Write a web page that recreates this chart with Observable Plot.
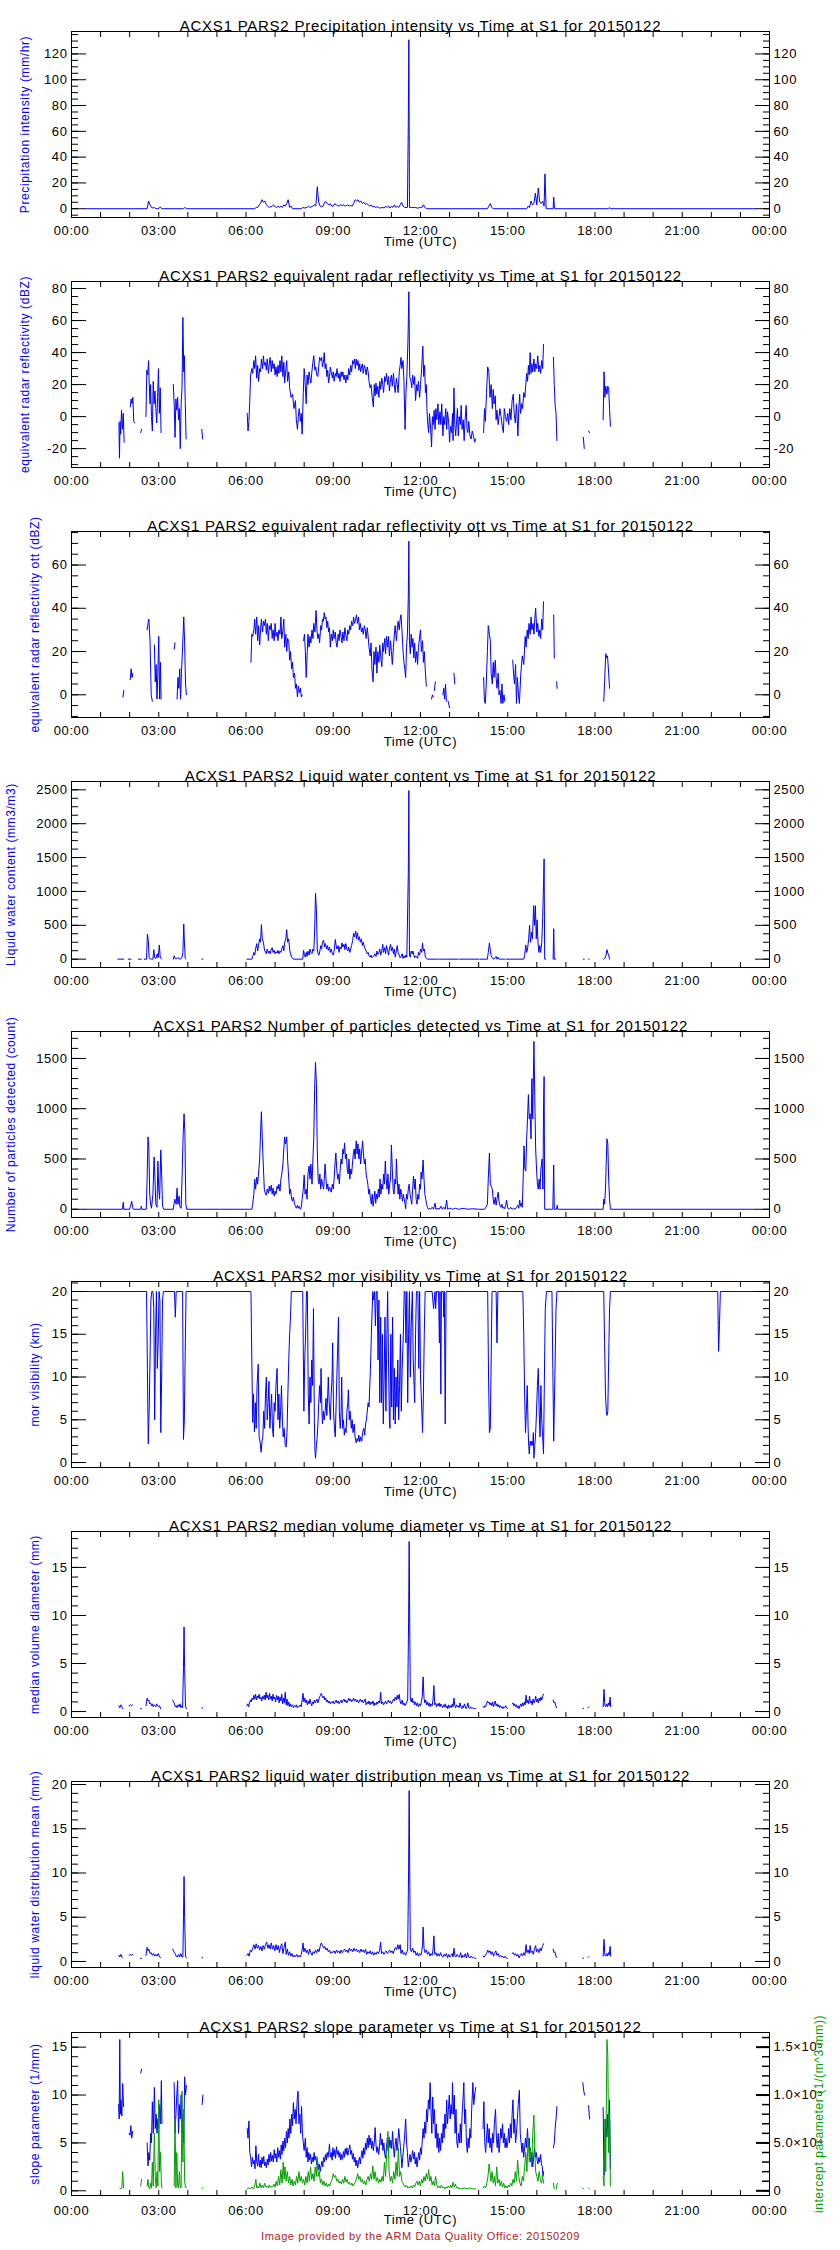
<!DOCTYPE html>
<html><head><meta charset="utf-8">
<script src="https://cdn.jsdelivr.net/npm/d3@7"></script>
<script src="https://cdn.jsdelivr.net/npm/@observablehq/plot@0.6"></script>
<style>
body{margin:0;background:#fff;}
#charts{width:840px;}
#charts svg{display:block;}
#charts svg text{letter-spacing:0.6px;}
#charts svg g[font-size="15"] text{letter-spacing:0.75px;}
</style></head><body><div id="charts"></div>
<script>
// ---- time axis ----
const xLabelHours = [0,3,6,9,12,15,18,21,24];
const xTickLabels = ["00:00","03:00","06:00","09:00","12:00","15:00","18:00","21:00","00:00"];

// ---- series: [hour (UTC), value]; null = gap ----
const precipIntensity = [[0.5,0],[2.6,0],[2.65,6],[2.7,3],[2.75,1],[2.8,0.5],[2.85,1],[2.9,0],[3.0,0],[3.05,1.5],[3.1,0],[3.85,0],[3.9,1],[3.95,0],[6.3,0],[6.35,1],[6.4,1],[6.45,3],[6.5,4],[6.55,7],[6.6,5],[6.65,6],[6.7,3],[6.75,2],[6.8,1],[6.85,1.5],[6.9,2],[6.95,3],[7.0,1.5],[7.05,1],[7.1,2],[7.15,1],[7.2,2],[7.25,1],[7.3,3],[7.35,2],[7.4,4],[7.45,7],[7.5,1],[7.55,2],[7.6,0],[7.9,0],[7.95,1],[8.0,0.5],[8.1,1],[8.15,2],[8.2,1],[8.3,2],[8.35,3],[8.4,2],[8.45,17],[8.5,5],[8.55,2],[8.6,1.5],[8.65,2],[8.7,5],[8.75,5.5],[8.8,4],[8.85,3],[8.9,4],[8.95,2],[9.0,2],[9.05,4],[9.1,3],[9.15,2.5],[9.2,2],[9.25,3],[9.3,2.5],[9.35,3],[9.4,2],[9.45,2.5],[9.5,3],[9.55,2],[9.6,2.5],[9.65,2],[9.7,4],[9.75,7],[9.8,6],[9.85,7],[9.9,5],[9.95,6],[10.0,4],[10.05,5],[10.1,3.5],[10.15,4],[10.2,3],[10.25,2],[10.3,3],[10.35,1.5],[10.4,2],[10.45,1],[10.5,1.5],[10.55,1],[10.6,0.5],[10.7,1],[10.75,0.5],[10.8,2],[10.85,1],[10.9,2],[10.95,0.5],[11.0,2],[11.05,1],[11.1,3],[11.15,1],[11.2,2],[11.25,1],[11.3,3],[11.35,5],[11.4,2],[11.45,1],[11.5,1],[11.55,1],[11.58,65],[11.6,131],[11.62,1],[11.7,1],[11.8,1],[11.9,0.5],[12.0,1],[12.05,1],[12.1,3],[12.15,1],[12.2,0],[14.3,0],[14.35,2],[14.4,4],[14.45,1],[14.5,0],[15.65,0],[15.7,2],[15.75,1],[15.8,6],[15.85,3],[15.9,4],[15.95,12],[16.0,3],[16.05,16],[16.1,5],[16.15,4],[16.2,6],[16.25,2],[16.28,27],[16.32,0],[16.56,0],[16.58,9],[16.61,0],[18.45,0],[18.5,0.8],[18.55,0],[23.5,0]];

const reflectivity = [[1.63,-4],[1.65,-26],[1.67,-3],[1.69,-11],[1.72,4],[1.75,-8],[1.78,2],[1.81,-16],[1.83,null],[2.02,6],[2.05,11],[2.08,8],[2.11,12],[2.14,-3],[2.17,-4],[2.19,null],[2.38,-10],[2.41,-8],[2.43,null],[2.56,0],[2.59,29],[2.62,26],[2.65,35],[2.67,22],[2.7,8],[2.72,20],[2.75,0],[2.78,-9],[2.81,22],[2.84,8],[2.87,16],[2.9,5],[2.93,-4],[2.96,12],[2.99,30],[3.02,2],[3.05,18],[3.08,-10],[3.1,null],[3.5,20],[3.53,8],[3.56,-13],[3.59,11],[3.62,4],[3.65,12],[3.68,-2],[3.71,5],[3.74,-20],[3.77,8],[3.8,18],[3.83,62],[3.86,28],[3.88,38],[3.91,10],[3.94,-14],[3.96,null],[4.48,-8],[4.51,-14],[4.53,null],[6.04,2],[6.07,-9],[6.1,-3],[6.13,10],[6.16,26],[6.2,30],[6.23,27],[6.27,35],[6.3,30],[6.33,38],[6.37,24],[6.4,32],[6.43,22],[6.47,30],[6.5,28],[6.53,36],[6.57,30],[6.6,38],[6.63,32],[6.67,34],[6.7,29],[6.73,36],[6.77,27],[6.8,33],[6.83,37],[6.87,28],[6.9,35],[6.93,30],[6.97,33],[7.0,26],[7.03,31],[7.07,25],[7.1,32],[7.13,27],[7.17,35],[7.2,28],[7.23,38],[7.27,25],[7.3,34],[7.33,21],[7.37,30],[7.4,35],[7.43,22],[7.47,28],[7.5,18],[7.55,12],[7.6,14],[7.65,5],[7.7,10],[7.73,-2],[7.77,-8],[7.8,0],[7.83,5],[7.87,-3],[7.9,2],[7.93,-11],[7.97,15],[8.0,30],[8.03,22],[8.07,8],[8.1,26],[8.13,20],[8.17,28],[8.2,24],[8.23,21],[8.27,29],[8.3,34],[8.33,38],[8.37,29],[8.4,31],[8.43,26],[8.47,25],[8.5,31],[8.53,37],[8.57,35],[8.6,37],[8.63,31],[8.66,34],[8.69,40],[8.72,30],[8.75,33],[8.78,25],[8.81,29],[8.84,21],[8.87,25],[8.9,31],[8.93,28],[8.97,24],[9.0,28],[9.03,22],[9.07,27],[9.1,25],[9.13,30],[9.17,24],[9.2,27],[9.23,22],[9.27,28],[9.3,25],[9.33,28],[9.37,23],[9.4,26],[9.43,21],[9.47,26],[9.5,23],[9.53,30],[9.57,26],[9.6,32],[9.63,28],[9.67,35],[9.7,33],[9.73,36],[9.76,30],[9.79,36],[9.82,32],[9.85,35],[9.88,29],[9.91,33],[9.94,28],[9.97,31],[10.0,33],[10.03,27],[10.07,32],[10.1,30],[10.13,26],[10.17,31],[10.2,28],[10.23,22],[10.27,18],[10.3,20],[10.34,12],[10.38,6],[10.41,20],[10.44,13],[10.47,21],[10.5,14],[10.53,19],[10.57,12],[10.6,22],[10.63,17],[10.67,24],[10.7,20],[10.73,15],[10.77,25],[10.8,22],[10.83,27],[10.87,20],[10.9,25],[10.93,16],[10.97,23],[11.0,26],[11.03,19],[11.07,27],[11.1,20],[11.13,15],[11.17,24],[11.2,20],[11.23,15],[11.27,28],[11.3,32],[11.33,37],[11.36,30],[11.4,35],[11.43,22],[11.47,-8],[11.5,15],[11.53,25],[11.57,48],[11.6,78],[11.63,25],[11.67,22],[11.7,18],[11.73,26],[11.77,20],[11.8,25],[11.83,10],[11.87,20],[11.9,16],[11.93,22],[11.97,12],[12.0,20],[12.04,30],[12.08,44],[12.11,25],[12.14,32],[12.17,15],[12.2,20],[12.22,5],[12.25,-5],[12.28,-10],[12.31,2],[12.35,-8],[12.38,-19],[12.41,0],[12.44,-5],[12.47,4],[12.5,-8],[12.53,5],[12.56,-2],[12.6,8],[12.63,-5],[12.67,3],[12.7,-5],[12.73,8],[12.77,-12],[12.8,0],[12.83,-5],[12.87,5],[12.9,-8],[12.93,3],[12.97,-4],[13.0,-16],[13.03,-6],[13.07,-10],[13.1,2],[13.12,-15],[13.15,18],[13.18,-5],[13.21,-12],[13.24,-3],[13.27,5],[13.3,-12],[13.33,0],[13.37,-5],[13.4,7],[13.43,-8],[13.47,-2],[13.5,-15],[13.53,-3],[13.57,7],[13.6,-8],[13.63,-10],[13.66,-3],[13.7,-12],[13.74,-14],[13.78,-9],[13.82,-12],[13.86,-16],[13.9,-14],[13.92,null],[14.17,-10],[14.2,5],[14.23,-3],[14.27,15],[14.31,31],[14.35,28],[14.39,12],[14.43,20],[14.47,5],[14.5,17],[14.53,8],[14.57,13],[14.6,-2],[14.63,4],[14.67,-5],[14.7,0],[14.73,5],[14.77,0],[14.81,-6],[14.85,-10],[14.88,5],[14.92,0],[14.96,-3],[15.0,2],[15.03,-5],[15.07,5],[15.11,-2],[15.15,10],[15.19,14],[15.22,2],[15.26,-4],[15.3,8],[15.35,-12],[15.38,5],[15.41,14],[15.44,2],[15.48,8],[15.51,5],[15.55,15],[15.59,12],[15.62,20],[15.65,27],[15.68,22],[15.71,32],[15.74,26],[15.77,40],[15.8,27],[15.83,33],[15.86,28],[15.9,36],[15.93,28],[15.96,33],[16.0,30],[16.03,38],[16.07,28],[16.1,32],[16.13,27],[16.17,35],[16.2,30],[16.23,45],[16.25,null],[16.57,37],[16.6,20],[16.63,7],[16.66,2],[16.69,-15],[16.71,null],[17.6,-13],[17.63,-20],[17.65,null],[17.78,-9],[17.81,-10],[17.83,null],[18.28,-2],[18.31,28],[18.34,12],[18.37,19],[18.41,14],[18.44,19],[18.47,18],[18.5,5],[18.53,-6],[18.55,null]];

const reflectivityOtt = [[1.77,-1],[1.8,2],[1.82,null],[2.02,7],[2.05,12],[2.08,8],[2.11,10],[2.13,null],[2.6,30],[2.63,33],[2.66,35],[2.7,25],[2.74,0],[2.78,-3],[2.8,null],[2.85,23],[2.88,6],[2.91,14],[2.94,-2],[2.97,10],[3.0,27],[3.03,-2],[3.06,15],[3.08,-2],[3.1,null],[3.53,21],[3.56,24],[3.58,null],[3.63,-2],[3.66,8],[3.69,3],[3.72,12],[3.75,-2],[3.78,10],[3.82,22],[3.86,36],[3.89,24],[3.92,5],[3.95,0],[3.97,null],[6.17,15],[6.2,28],[6.23,27],[6.27,30],[6.3,35],[6.33,28],[6.37,36],[6.4,25],[6.43,32],[6.47,23],[6.5,30],[6.53,35],[6.57,29],[6.6,34],[6.63,32],[6.67,35],[6.7,28],[6.73,33],[6.77,25],[6.8,32],[6.83,30],[6.87,33],[6.9,26],[6.93,30],[6.97,25],[7.0,33],[7.03,27],[7.07,29],[7.1,25],[7.13,30],[7.17,28],[7.2,36],[7.23,26],[7.27,30],[7.3,35],[7.33,22],[7.37,28],[7.4,20],[7.43,26],[7.47,25],[7.5,16],[7.53,20],[7.57,12],[7.6,15],[7.63,8],[7.67,10],[7.7,3],[7.73,5],[7.77,-1],[7.8,4],[7.83,1],[7.87,3],[7.9,-1],[7.93,0],[7.95,null],[7.98,25],[8.01,28],[8.04,20],[8.07,8],[8.1,18],[8.13,28],[8.17,22],[8.2,27],[8.23,24],[8.27,30],[8.3,26],[8.33,33],[8.37,29],[8.41,39],[8.44,30],[8.47,26],[8.5,28],[8.53,24],[8.57,32],[8.6,30],[8.63,35],[8.66,34],[8.69,38],[8.72,35],[8.75,36],[8.78,31],[8.81,34],[8.84,29],[8.87,31],[8.9,22],[8.93,28],[8.97,25],[9.0,30],[9.03,26],[9.07,29],[9.1,24],[9.13,22],[9.17,28],[9.2,25],[9.23,30],[9.27,27],[9.3,24],[9.33,29],[9.37,25],[9.4,31],[9.43,28],[9.47,25],[9.5,30],[9.53,28],[9.57,32],[9.6,30],[9.63,34],[9.67,32],[9.7,36],[9.73,33],[9.77,35],[9.8,37],[9.83,33],[9.87,36],[9.9,30],[9.93,33],[9.97,29],[10.0,31],[10.03,28],[10.07,32],[10.1,30],[10.13,26],[10.17,31],[10.2,27],[10.23,22],[10.27,18],[10.3,24],[10.33,12],[10.37,6],[10.4,20],[10.43,14],[10.47,22],[10.5,10],[10.53,20],[10.57,15],[10.6,23],[10.63,18],[10.67,13],[10.7,24],[10.73,20],[10.77,26],[10.8,19],[10.83,27],[10.87,22],[10.9,27],[10.93,18],[10.97,25],[11.0,20],[11.03,14],[11.07,22],[11.1,28],[11.13,32],[11.17,25],[11.2,30],[11.23,34],[11.27,30],[11.3,35],[11.33,37],[11.37,28],[11.4,20],[11.43,15],[11.46,12],[11.49,8],[11.52,22],[11.55,28],[11.58,45],[11.6,71],[11.62,25],[11.65,19],[11.68,28],[11.71,22],[11.74,26],[11.77,17],[11.8,24],[11.83,15],[11.87,20],[11.9,14],[11.93,22],[11.97,27],[12.0,30],[12.03,20],[12.07,25],[12.1,15],[12.13,20],[12.17,10],[12.2,4],[12.22,null],[12.38,-2],[12.41,0],[12.44,-1],[12.46,null],[12.48,2],[12.51,6],[12.53,null],[12.77,0],[12.8,3],[12.83,-2],[12.86,5],[12.89,-3],[12.91,null],[12.95,-3],[13.0,-6],[13.02,null],[13.15,10],[13.18,5],[13.2,null],[14.17,8],[14.2,-3],[14.23,-4],[14.26,5],[14.3,20],[14.33,32],[14.37,28],[14.4,25],[14.43,10],[14.47,5],[14.5,15],[14.53,8],[14.57,16],[14.6,8],[14.63,3],[14.67,10],[14.7,0],[14.73,2],[14.77,-4],[14.8,5],[14.83,-4],[14.87,0],[14.9,-3],[14.92,null],[15.17,16],[15.2,10],[15.23,5],[15.27,14],[15.3,-4],[15.33,8],[15.37,0],[15.4,-4],[15.45,10],[15.5,18],[15.55,14],[15.6,27],[15.63,22],[15.67,30],[15.7,26],[15.73,33],[15.77,28],[15.8,36],[15.83,30],[15.87,33],[15.9,28],[15.93,35],[15.96,40],[16.0,29],[16.03,33],[16.07,27],[16.1,30],[16.13,26],[16.17,35],[16.2,30],[16.23,43],[16.25,null],[16.58,37],[16.6,17],[16.62,null],[16.68,6],[16.7,3],[16.72,null],[18.3,-3],[18.33,6],[18.37,19],[18.4,17],[18.43,18],[18.47,10],[18.5,3],[18.52,null]];

const liquidWaterContent = [[1.6,0],[1.8,0],[1.82,null],[1.95,0],[2.05,0],[2.07,null],[2.3,0],[2.4,0],[2.42,null],[2.5,0],[2.58,0],[2.61,370],[2.64,280],[2.67,20],[2.7,5],[2.75,0],[2.8,0],[2.83,140],[2.86,20],[2.9,10],[2.95,80],[2.98,20],[3.02,210],[3.05,30],[3.08,10],[3.1,0],[3.12,null],[3.5,0],[3.53,50],[3.56,10],[3.6,5],[3.65,20],[3.7,10],[3.75,0],[3.8,30],[3.83,100],[3.86,520],[3.88,280],[3.91,10],[3.93,0],[3.95,null],[4.48,0],[4.52,0],[4.54,null],[6.03,0],[6.2,0],[6.23,40],[6.27,100],[6.3,60],[6.33,150],[6.37,230],[6.4,120],[6.43,200],[6.47,300],[6.5,250],[6.53,510],[6.56,300],[6.6,250],[6.63,150],[6.67,100],[6.7,80],[6.73,150],[6.77,90],[6.8,120],[6.83,80],[6.87,150],[6.9,170],[6.93,100],[6.97,130],[7.0,80],[7.03,110],[7.07,90],[7.1,130],[7.13,80],[7.17,120],[7.2,100],[7.23,150],[7.27,200],[7.3,120],[7.33,250],[7.37,300],[7.4,435],[7.43,250],[7.47,300],[7.5,150],[7.53,80],[7.57,30],[7.6,10],[7.65,0],[7.95,0],[7.98,130],[8.01,60],[8.04,30],[8.07,100],[8.1,40],[8.13,120],[8.17,60],[8.2,150],[8.23,100],[8.27,80],[8.3,150],[8.33,120],[8.36,400],[8.39,970],[8.42,730],[8.45,150],[8.48,80],[8.51,60],[8.54,120],[8.57,200],[8.6,150],[8.63,250],[8.67,280],[8.7,180],[8.73,230],[8.77,150],[8.8,200],[8.83,130],[8.87,180],[8.9,100],[8.93,150],[8.97,80],[9.0,60],[9.03,120],[9.07,290],[9.1,200],[9.13,150],[9.17,200],[9.2,100],[9.23,180],[9.27,150],[9.3,240],[9.33,180],[9.37,220],[9.4,140],[9.43,230],[9.47,150],[9.5,120],[9.53,180],[9.57,100],[9.6,150],[9.63,200],[9.67,280],[9.7,380],[9.73,330],[9.77,415],[9.8,300],[9.83,390],[9.87,280],[9.9,330],[9.93,250],[9.97,300],[10.0,200],[10.03,250],[10.07,180],[10.1,150],[10.13,120],[10.17,80],[10.2,100],[10.23,50],[10.27,30],[10.3,60],[10.33,20],[10.37,40],[10.4,50],[10.43,80],[10.47,40],[10.5,120],[10.53,70],[10.57,100],[10.6,150],[10.63,60],[10.67,120],[10.7,220],[10.73,100],[10.77,170],[10.8,80],[10.83,200],[10.87,130],[10.9,60],[10.93,150],[10.97,220],[11.0,120],[11.03,180],[11.07,80],[11.1,150],[11.13,30],[11.17,120],[11.2,200],[11.23,100],[11.27,60],[11.3,20],[11.33,40],[11.37,80],[11.4,10],[11.43,50],[11.47,20],[11.5,60],[11.53,30],[11.58,1250],[11.6,2490],[11.62,60],[11.65,30],[11.68,120],[11.71,80],[11.74,120],[11.77,60],[11.8,20],[11.83,50],[11.87,30],[11.9,10],[11.93,100],[11.97,60],[12.0,150],[12.04,100],[12.07,240],[12.1,120],[12.13,150],[12.17,30],[12.2,10],[12.25,0],[12.6,0],[12.62,null],[12.64,0],[13.3,0],[13.32,null],[13.34,0],[14.0,0],[14.02,null],[14.04,0],[14.3,0],[14.33,100],[14.37,240],[14.4,130],[14.43,50],[14.47,20],[14.5,0],[14.55,10],[14.6,40],[14.63,0],[14.67,30],[14.7,0],[14.9,0],[14.92,null],[14.95,0],[15.55,0],[15.58,50],[15.62,210],[15.65,100],[15.68,150],[15.72,300],[15.75,500],[15.78,250],[15.82,400],[15.85,300],[15.89,790],[15.92,500],[15.95,790],[15.98,300],[16.01,580],[16.04,250],[16.07,100],[16.1,200],[16.13,100],[16.17,250],[16.2,600],[16.23,1100],[16.25,1480],[16.27,0],[16.3,0],[16.32,null],[16.56,0],[16.58,450],[16.6,0],[16.65,0],[16.67,null],[17.6,0],[17.63,0],[17.65,null],[17.78,0],[17.8,0],[17.82,null],[18.3,0],[18.35,20],[18.38,60],[18.41,140],[18.44,90],[18.47,60],[18.5,0],[18.52,null]];

const particleCount = [[0.5,0],[1.75,0],[1.78,70],[1.8,0],[2.0,0],[2.03,30],[2.07,80],[2.1,20],[2.13,0],[2.38,0],[2.4,30],[2.42,0],[2.57,0],[2.6,300],[2.63,720],[2.66,600],[2.69,150],[2.72,50],[2.75,10],[2.8,150],[2.84,520],[2.87,300],[2.9,50],[2.94,20],[2.97,480],[3.0,200],[3.03,100],[3.07,590],[3.1,350],[3.13,30],[3.17,0],[3.5,0],[3.55,100],[3.6,50],[3.63,210],[3.66,50],[3.7,130],[3.73,20],[3.77,10],[3.8,300],[3.84,750],[3.87,950],[3.9,750],[3.93,50],[3.96,0],[6.2,0],[6.23,50],[6.27,150],[6.3,300],[6.33,200],[6.37,320],[6.4,250],[6.43,350],[6.47,500],[6.5,760],[6.53,970],[6.56,700],[6.6,400],[6.63,200],[6.67,150],[6.7,140],[6.73,200],[6.77,160],[6.8,230],[6.83,180],[6.87,240],[6.9,150],[6.93,210],[6.97,130],[7.0,180],[7.03,150],[7.07,230],[7.1,200],[7.13,250],[7.17,180],[7.2,300],[7.23,350],[7.27,450],[7.3,600],[7.33,720],[7.36,650],[7.4,720],[7.43,500],[7.47,300],[7.5,150],[7.53,200],[7.57,100],[7.6,80],[7.63,120],[7.67,50],[7.7,30],[7.73,10],[7.77,40],[7.8,10],[7.83,30],[7.87,0],[7.9,20],[7.93,100],[7.97,200],[8.0,340],[8.03,150],[8.07,200],[8.1,100],[8.13,350],[8.17,430],[8.2,300],[8.23,450],[8.27,250],[8.3,500],[8.33,700],[8.36,1200],[8.39,1460],[8.42,1250],[8.45,600],[8.48,300],[8.51,250],[8.54,350],[8.57,200],[8.6,300],[8.63,250],[8.67,200],[8.7,350],[8.72,450],[8.75,300],[8.78,200],[8.81,250],[8.84,180],[8.87,220],[8.9,200],[8.93,170],[8.97,250],[9.0,200],[9.03,300],[9.06,450],[9.09,560],[9.12,400],[9.15,300],[9.18,350],[9.21,250],[9.24,400],[9.27,500],[9.3,450],[9.33,600],[9.36,550],[9.39,660],[9.42,500],[9.45,550],[9.48,400],[9.51,350],[9.54,500],[9.57,300],[9.6,400],[9.63,350],[9.66,450],[9.69,550],[9.72,600],[9.75,500],[9.79,680],[9.82,550],[9.85,650],[9.88,500],[9.91,600],[9.94,450],[9.97,550],[10.01,680],[10.04,550],[10.07,450],[10.1,500],[10.13,350],[10.16,300],[10.19,250],[10.22,150],[10.25,200],[10.28,100],[10.31,50],[10.34,150],[10.37,30],[10.4,100],[10.43,180],[10.46,60],[10.49,150],[10.52,100],[10.55,200],[10.58,120],[10.61,300],[10.64,150],[10.67,250],[10.7,200],[10.73,350],[10.76,250],[10.79,480],[10.82,300],[10.85,200],[10.88,350],[10.91,150],[10.94,250],[10.97,300],[11.0,640],[11.03,400],[11.06,200],[11.09,150],[11.12,300],[11.15,250],[11.17,500],[11.2,300],[11.23,150],[11.26,250],[11.29,100],[11.32,200],[11.35,150],[11.38,80],[11.41,150],[11.44,100],[11.47,50],[11.49,5],[11.52,150],[11.55,100],[11.58,200],[11.61,250],[11.64,150],[11.67,100],[11.7,50],[11.73,200],[11.76,330],[11.79,200],[11.82,300],[11.85,100],[11.88,50],[11.91,150],[11.94,100],[11.97,250],[12.0,200],[12.02,370],[12.05,300],[12.09,490],[12.12,300],[12.15,150],[12.18,100],[12.21,50],[12.24,20],[12.27,0],[12.3,10],[12.35,0],[12.4,20],[12.45,0],[12.5,60],[12.53,0],[12.6,10],[12.65,0],[12.7,30],[12.75,0],[12.8,20],[12.85,0],[12.9,90],[12.93,0],[13.0,10],[13.1,0],[13.2,10],[13.3,0],[13.5,10],[13.6,0],[13.8,5],[14.0,0],[14.2,0],[14.25,20],[14.3,50],[14.33,300],[14.37,560],[14.4,250],[14.43,230],[14.47,200],[14.5,100],[14.53,50],[14.57,120],[14.6,40],[14.63,100],[14.67,170],[14.7,80],[14.73,40],[14.77,20],[14.8,50],[14.83,10],[14.87,20],[14.9,5],[14.93,40],[14.96,90],[15.0,10],[15.05,0],[15.1,20],[15.15,0],[15.2,10],[15.25,0],[15.3,20],[15.35,40],[15.38,10],[15.41,90],[15.44,30],[15.47,60],[15.5,20],[15.53,300],[15.56,630],[15.59,400],[15.62,380],[15.65,700],[15.68,900],[15.71,1140],[15.74,900],[15.77,950],[15.8,700],[15.83,1300],[15.86,900],[15.9,1670],[15.93,1100],[15.96,600],[15.99,400],[16.02,250],[16.05,200],[16.08,300],[16.11,200],[16.14,400],[16.18,500],[16.21,200],[16.23,1000],[16.25,1320],[16.27,0],[16.55,0],[16.58,440],[16.6,0],[16.68,0],[16.7,40],[16.72,0],[18.28,0],[18.3,100],[18.33,50],[18.36,200],[18.39,500],[18.41,700],[18.44,650],[18.47,300],[18.5,100],[18.53,0],[23.5,0]];

const morVisibility = [[0.5,20],[2.58,20],[2.61,11],[2.64,2.2],[2.67,6],[2.7,12],[2.73,19],[2.76,20],[2.8,20],[2.83,18],[2.86,5],[2.89,15],[2.92,20],[2.95,11],[2.98,14],[3.01,20],[3.04,19],[3.07,3.5],[3.1,10],[3.13,19],[3.16,20],[3.54,20],[3.57,17],[3.6,20],[3.82,20],[3.85,2.7],[3.88,5],[3.91,13],[3.94,20],[6.17,20],[6.2,12],[6.23,4.7],[6.26,8],[6.29,3.6],[6.32,7],[6.35,4],[6.38,9],[6.42,11.5],[6.45,3],[6.48,2.5],[6.52,1.2],[6.55,2.5],[6.58,3],[6.61,6],[6.64,4],[6.67,8],[6.7,10],[6.73,5],[6.76,7],[6.79,9.5],[6.82,4],[6.85,6],[6.88,8],[6.91,4],[6.94,3],[6.97,7],[7.0,6],[7.03,9],[7.07,11],[7.1,5],[7.13,8],[7.16,4],[7.19,6],[7.22,9],[7.25,5],[7.28,3],[7.31,4],[7.35,2],[7.38,1.8],[7.41,3.5],[7.44,8],[7.47,12],[7.5,15],[7.53,17],[7.56,20],[7.95,20],[7.99,6],[8.02,12],[8.05,15],[8.08,20],[8.11,20],[8.14,8],[8.17,4.5],[8.2,10],[8.23,7],[8.26,12],[8.29,9],[8.32,18],[8.35,5],[8.37,1.5],[8.39,0.5],[8.42,2],[8.45,3],[8.48,5],[8.5,7],[8.53,9],[8.56,7],[8.58,11],[8.61,6],[8.63,4.5],[8.66,6],[8.69,5],[8.72,6],[8.75,7.5],[8.78,5.5],[8.81,8],[8.83,10],[8.86,7],[8.9,5],[8.93,8],[8.96,10],[8.98,14],[9.01,6],[9.04,4],[9.07,3],[9.1,7],[9.14,12],[9.18,17],[9.21,6],[9.24,4],[9.27,6],[9.29,10],[9.32,4],[9.35,5],[9.38,3.2],[9.41,4],[9.44,3.5],[9.47,6],[9.5,7],[9.52,8.5],[9.55,5],[9.58,6],[9.62,4],[9.65,5],[9.68,3.5],[9.72,4.5],[9.75,3],[9.79,2.3],[9.82,2.8],[9.85,2.5],[9.88,3.2],[9.91,2.4],[9.94,3],[9.98,2.5],[10.01,3.5],[10.05,4],[10.08,3.2],[10.11,4.5],[10.14,5],[10.17,6],[10.2,7],[10.23,6.5],[10.25,8.5],[10.28,11],[10.31,15],[10.34,18],[10.36,20],[10.39,19],[10.42,20],[10.45,16],[10.48,20],[10.51,20],[10.54,12],[10.57,19],[10.6,7],[10.63,17],[10.66,7],[10.69,15],[10.72,4.5],[10.75,10],[10.78,17],[10.81,6],[10.84,14],[10.87,20],[10.9,12],[10.93,5],[10.95,4],[10.98,15],[11.01,6.5],[11.04,17],[11.07,5],[11.1,11],[11.13,4.5],[11.16,10],[11.19,6.5],[11.22,12],[11.25,5],[11.28,9],[11.31,15],[11.34,6],[11.37,11],[11.41,15],[11.44,20],[11.47,20],[11.5,14],[11.53,20],[11.56,7],[11.59,15],[11.62,20],[11.65,10],[11.68,16],[11.72,20],[11.75,12],[11.78,9],[11.8,7],[11.83,15],[11.86,20],[11.89,20],[11.91,20],[11.94,11],[11.97,20],[12.0,10],[12.04,6.5],[12.07,3.5],[12.1,8],[12.13,15],[12.16,20],[12.18,20],[12.4,20],[12.45,18],[12.5,20],[12.52,18],[12.55,20],[12.62,20],[12.65,14],[12.67,20],[12.7,8],[12.72,20],[12.78,20],[12.8,17],[12.82,20],[12.85,4.5],[12.88,20],[14.31,20],[14.34,10],[14.37,3.5],[14.4,4],[14.43,12],[14.46,20],[14.49,20],[14.6,20],[14.63,14],[14.66,20],[15.52,20],[15.55,15],[15.58,8],[15.61,3.5],[15.64,6],[15.67,9],[15.7,4],[15.72,2],[15.74,1],[15.77,2.5],[15.8,2],[15.83,2.5],[15.86,2],[15.88,3.5],[15.9,0.5],[15.93,2],[15.96,3.5],[15.99,6],[16.02,9],[16.05,11],[16.08,6],[16.11,3],[16.14,9],[16.17,5],[16.2,3],[16.23,1],[16.26,10],[16.29,18],[16.33,20],[16.52,20],[16.55,11],[16.58,2.5],[16.62,10],[16.66,18],[16.69,20],[18.3,20],[18.33,14],[18.36,8],[18.39,6],[18.41,5.5],[18.44,6],[18.47,12],[18.5,18],[18.53,20],[22.22,20],[22.25,13],[22.28,16],[22.31,20],[23.5,20]];

const medianVolumeDiameter = [[1.63,0.6],[1.66,0.4],[1.7,0.7],[1.73,0.5],[1.76,0.3],[1.78,null],[1.98,0.6],[2.02,0.7],[2.06,0.6],[2.1,0.7],[2.13,null],[2.38,0.3],[2.41,0.3],[2.43,null],[2.56,0.6],[2.6,1.4],[2.63,1.1],[2.66,1.2],[2.69,0.8],[2.72,0.9],[2.75,0.6],[2.78,0.8],[2.81,0.5],[2.84,0.7],[2.87,0.6],[2.9,0.5],[2.93,0.8],[2.96,0.6],[3.0,0.5],[3.03,0.6],[3.06,0.3],[3.08,null],[3.48,1.2],[3.51,1.0],[3.54,0.8],[3.57,0.5],[3.6,0.6],[3.63,0.4],[3.66,0.7],[3.7,0.5],[3.73,0.8],[3.76,0.4],[3.79,0.6],[3.82,0.4],[3.85,4.6],[3.87,8.8],[3.89,4.6],[3.92,0.5],[3.95,0.3],[3.97,null],[4.48,0.4],[4.51,0.35],[4.53,null],[6.03,0.6],[6.06,0.8],[6.09,0.5],[6.12,0.9],[6.15,1.2],[6.18,1.0],[6.21,1.4],[6.24,1.2],[6.27,1.7],[6.3,1.3],[6.33,1.8],[6.36,1.2],[6.39,1.6],[6.42,1.4],[6.45,1.8],[6.48,1.3],[6.51,1.5],[6.54,1.1],[6.57,1.6],[6.6,1.3],[6.63,1.7],[6.66,1.2],[6.69,2.0],[6.72,1.4],[6.75,1.7],[6.78,1.2],[6.81,1.9],[6.84,1.3],[6.87,1.6],[6.9,1.1],[6.93,1.8],[6.96,1.3],[6.99,1.5],[7.02,1.0],[7.05,1.7],[7.08,1.2],[7.11,1.6],[7.14,0.9],[7.17,1.5],[7.2,1.1],[7.23,1.8],[7.26,0.8],[7.29,1.4],[7.32,0.9],[7.35,2.0],[7.38,0.7],[7.41,1.3],[7.44,0.6],[7.47,1.0],[7.5,0.5],[7.53,0.8],[7.56,0.5],[7.6,0.7],[7.63,0.4],[7.67,0.6],[7.7,0.5],[7.73,0.7],[7.76,0.4],[7.8,0.6],[7.83,0.5],[7.87,0.7],[7.9,0.5],[7.93,1.2],[7.96,1.9],[7.99,1.0],[8.02,1.4],[8.05,0.9],[8.08,1.2],[8.11,0.7],[8.14,1.1],[8.17,0.8],[8.2,1.3],[8.23,0.9],[8.26,0.6],[8.29,1.0],[8.32,0.8],[8.35,1.2],[8.38,0.9],[8.41,1.1],[8.44,1.3],[8.47,0.9],[8.5,1.2],[8.53,1.5],[8.56,1.7],[8.59,1.9],[8.62,1.6],[8.65,1.4],[8.68,1.6],[8.71,1.2],[8.74,1.4],[8.77,1.0],[8.8,1.2],[8.83,0.9],[8.86,1.1],[8.9,0.8],[8.93,1.0],[8.97,0.9],[9.0,1.1],[9.03,0.8],[9.07,1.0],[9.1,1.2],[9.13,0.9],[9.17,1.1],[9.2,0.8],[9.23,1.0],[9.27,1.2],[9.3,0.9],[9.33,1.1],[9.37,1.3],[9.4,1.0],[9.43,1.2],[9.47,0.9],[9.5,1.1],[9.53,1.4],[9.57,1.1],[9.6,1.3],[9.63,1.0],[9.67,1.2],[9.7,1.4],[9.73,1.1],[9.77,1.3],[9.8,1.0],[9.83,1.2],[9.87,0.9],[9.9,1.1],[9.93,1.3],[9.97,1.0],[10.0,1.2],[10.03,0.9],[10.07,1.1],[10.1,1.3],[10.13,0.7],[10.17,1.0],[10.2,0.8],[10.23,1.1],[10.27,0.7],[10.3,1.0],[10.33,0.8],[10.37,1.1],[10.4,0.6],[10.43,0.9],[10.47,0.7],[10.5,1.0],[10.53,0.8],[10.57,1.1],[10.6,0.9],[10.63,2.0],[10.66,0.8],[10.7,1.0],[10.73,0.7],[10.77,0.9],[10.8,1.1],[10.83,0.8],[10.87,1.0],[10.9,1.2],[10.93,0.9],[10.97,1.1],[11.0,0.8],[11.03,1.0],[11.07,1.3],[11.1,1.1],[11.13,1.5],[11.17,1.2],[11.2,1.7],[11.23,1.3],[11.27,1.8],[11.3,1.0],[11.33,0.8],[11.37,1.2],[11.4,0.7],[11.43,0.9],[11.47,0.6],[11.5,0.8],[11.53,1.0],[11.56,1.2],[11.59,9.2],[11.61,17.7],[11.63,9.0],[11.65,1.3],[11.68,1.0],[11.71,1.4],[11.74,0.9],[11.77,1.1],[11.8,0.7],[11.83,1.0],[11.87,0.6],[11.9,0.9],[11.93,0.5],[11.97,0.8],[12.0,0.6],[12.03,1.0],[12.06,1.6],[12.09,3.6],[12.12,1.4],[12.15,0.9],[12.18,1.2],[12.21,0.7],[12.24,1.0],[12.27,0.6],[12.3,0.9],[12.33,0.5],[12.36,0.8],[12.4,0.6],[12.43,1.2],[12.46,2.7],[12.49,0.7],[12.52,0.9],[12.55,0.5],[12.58,0.8],[12.61,0.6],[12.64,0.9],[12.67,0.5],[12.7,0.8],[12.73,0.6],[12.76,0.4],[12.79,0.7],[12.82,0.5],[12.85,0.8],[12.88,0.4],[12.91,0.6],[12.94,0.3],[12.97,0.7],[13.0,0.4],[13.03,0.6],[13.06,0.4],[13.09,0.8],[13.12,0.5],[13.15,1.4],[13.18,0.6],[13.21,0.4],[13.24,0.7],[13.27,0.5],[13.3,0.6],[13.33,0.4],[13.36,0.9],[13.39,0.5],[13.42,0.3],[13.45,0.6],[13.48,0.4],[13.51,0.8],[13.54,0.5],[13.57,0.3],[13.6,0.5],[13.63,0.9],[13.66,0.4],[13.69,0.3],[13.72,0.5],[13.76,0.3],[13.8,0.4],[13.85,0.3],[13.9,0.3],[13.92,null],[14.15,0.5],[14.18,0.4],[14.21,0.6],[14.24,0.5],[14.27,0.8],[14.3,1.1],[14.33,0.9],[14.36,1.0],[14.39,0.7],[14.42,0.9],[14.45,0.6],[14.48,1.0],[14.51,0.5],[14.54,0.8],[14.57,1.1],[14.6,0.6],[14.63,0.8],[14.66,0.5],[14.69,0.7],[14.72,0.4],[14.75,0.6],[14.78,0.4],[14.81,0.5],[14.84,0.3],[14.87,0.5],[14.9,0.4],[14.93,0.6],[14.96,0.4],[14.99,0.3],[15.01,null],[15.15,0.8],[15.18,0.9],[15.21,0.6],[15.24,0.8],[15.27,0.5],[15.3,0.7],[15.33,0.4],[15.36,0.6],[15.39,0.3],[15.42,0.6],[15.45,0.8],[15.48,0.5],[15.51,0.9],[15.54,0.6],[15.57,1.0],[15.6,0.7],[15.63,1.7],[15.66,0.9],[15.69,1.2],[15.72,0.8],[15.75,1.6],[15.78,0.9],[15.81,1.1],[15.84,0.7],[15.87,1.3],[15.9,0.9],[15.93,1.1],[15.96,1.6],[15.99,1.0],[16.02,1.3],[16.05,0.9],[16.08,1.4],[16.11,1.1],[16.14,1.5],[16.17,1.2],[16.2,1.6],[16.23,1.8],[16.25,null],[16.56,1.2],[16.59,0.9],[16.62,1.0],[16.65,0.6],[16.68,0.4],[16.7,null],[17.58,0.3],[17.61,0.35],[17.63,null],[17.76,0.4],[17.79,0.5],[17.81,null],[18.28,0.5],[18.31,2.3],[18.34,0.6],[18.37,0.5],[18.4,0.8],[18.43,0.5],[18.46,0.9],[18.49,0.6],[18.52,1.5],[18.54,0.5],[18.56,null]];

const liquidWaterMean = [[1.63,0.7],[1.66,0.5],[1.7,0.8],[1.73,0.5],[1.76,0.4],[1.78,null],[1.98,0.7],[2.02,0.8],[2.06,0.7],[2.1,0.8],[2.13,null],[2.38,0.35],[2.41,0.35],[2.43,null],[2.56,0.7],[2.6,1.6],[2.63,1.2],[2.66,1.4],[2.7,0.9],[2.74,1.0],[2.78,0.7],[2.82,0.9],[2.86,0.6],[2.9,0.8],[2.94,0.6],[2.98,0.9],[3.02,0.6],[3.06,0.4],[3.08,null],[3.48,1.4],[3.52,1.1],[3.56,0.9],[3.6,0.6],[3.64,0.5],[3.68,0.8],[3.72,0.5],[3.76,0.9],[3.8,0.5],[3.83,0.5],[3.85,5.1],[3.87,9.6],[3.89,5.0],[3.92,0.6],[3.95,0.4],[3.97,null],[4.48,0.45],[4.51,0.4],[4.53,null],[6.03,0.7],[6.07,0.9],[6.11,0.6],[6.15,1.3],[6.19,1.1],[6.23,1.5],[6.27,1.9],[6.31,1.4],[6.35,2.0],[6.39,1.5],[6.43,1.8],[6.47,1.3],[6.51,1.7],[6.55,1.2],[6.59,1.8],[6.63,1.4],[6.67,1.9],[6.71,2.2],[6.75,1.5],[6.79,1.9],[6.83,1.4],[6.87,2.1],[6.91,1.4],[6.95,1.8],[6.99,1.2],[7.03,1.9],[7.07,1.3],[7.11,1.8],[7.15,1.0],[7.19,1.7],[7.23,2.0],[7.27,0.9],[7.31,1.6],[7.35,2.2],[7.38,0.8],[7.42,1.4],[7.46,0.7],[7.5,1.1],[7.54,0.6],[7.58,0.9],[7.62,0.5],[7.66,0.7],[7.7,0.5],[7.74,0.8],[7.78,0.5],[7.82,0.7],[7.86,0.5],[7.9,0.8],[7.93,1.3],[7.96,2.1],[7.99,1.1],[8.03,1.5],[8.07,1.0],[8.11,1.3],[8.15,0.8],[8.19,1.4],[8.23,1.0],[8.27,0.7],[8.31,1.1],[8.35,0.9],[8.39,1.3],[8.43,1.0],[8.47,1.4],[8.51,1.1],[8.55,1.7],[8.59,2.1],[8.63,1.8],[8.67,1.5],[8.71,1.7],[8.75,1.3],[8.79,1.5],[8.83,1.1],[8.87,1.3],[8.91,0.9],[8.95,1.1],[8.99,1.0],[9.03,1.2],[9.07,0.9],[9.11,1.3],[9.15,1.0],[9.19,1.2],[9.23,0.9],[9.27,1.3],[9.31,1.0],[9.35,1.2],[9.39,1.4],[9.43,1.1],[9.47,1.3],[9.51,1.0],[9.55,1.5],[9.59,1.2],[9.63,1.4],[9.67,1.1],[9.71,1.5],[9.75,1.2],[9.79,1.4],[9.83,1.1],[9.87,1.3],[9.91,1.0],[9.95,1.4],[9.99,1.1],[10.03,1.3],[10.07,1.0],[10.11,1.4],[10.15,0.8],[10.19,1.1],[10.23,0.9],[10.27,1.2],[10.31,0.8],[10.35,1.1],[10.39,0.7],[10.43,1.0],[10.47,0.8],[10.51,1.1],[10.55,0.9],[10.59,1.2],[10.63,2.2],[10.66,0.9],[10.7,1.1],[10.74,0.8],[10.78,1.0],[10.82,1.2],[10.86,0.9],[10.9,1.1],[10.94,1.3],[10.98,1.0],[11.02,1.2],[11.06,0.9],[11.1,1.3],[11.14,1.6],[11.18,1.3],[11.22,1.9],[11.26,1.4],[11.3,1.9],[11.33,0.9],[11.37,1.3],[11.41,0.8],[11.45,1.0],[11.49,0.7],[11.53,1.1],[11.56,1.3],[11.59,10],[11.61,19.3],[11.63,10],[11.65,1.4],[11.69,1.1],[11.73,1.5],[11.77,1.0],[11.81,1.2],[11.85,0.7],[11.89,1.0],[11.93,0.6],[11.97,0.9],[12.01,0.7],[12.04,1.1],[12.07,1.8],[12.09,3.9],[12.12,1.5],[12.16,1.0],[12.2,1.3],[12.24,0.8],[12.28,1.1],[12.32,0.6],[12.36,0.9],[12.4,0.7],[12.43,1.3],[12.46,2.9],[12.49,0.8],[12.53,1.0],[12.57,0.6],[12.61,0.9],[12.65,0.6],[12.69,1.0],[12.73,0.6],[12.77,0.5],[12.81,0.8],[12.85,0.6],[12.89,0.9],[12.93,0.4],[12.97,0.8],[13.01,0.5],[13.05,0.7],[13.09,0.9],[13.12,0.5],[13.15,1.5],[13.18,0.7],[13.22,0.5],[13.26,0.8],[13.3,0.6],[13.34,0.5],[13.38,1.0],[13.42,0.4],[13.46,0.7],[13.5,0.5],[13.54,0.9],[13.58,0.4],[13.62,1.0],[13.66,0.5],[13.7,0.4],[13.74,0.6],[13.78,0.4],[13.82,0.5],[13.86,0.35],[13.9,0.35],[13.92,null],[14.15,0.6],[14.19,0.5],[14.23,0.7],[14.27,0.9],[14.31,1.3],[14.35,1.0],[14.39,1.2],[14.43,0.8],[14.47,1.1],[14.51,0.6],[14.55,0.9],[14.59,1.2],[14.63,0.7],[14.67,0.9],[14.71,0.5],[14.75,0.7],[14.79,0.5],[14.83,0.6],[14.87,0.4],[14.91,0.6],[14.95,0.4],[14.99,0.35],[15.01,null],[15.15,0.9],[15.19,1.0],[15.23,0.7],[15.27,0.9],[15.31,0.6],[15.35,0.8],[15.39,0.4],[15.43,0.7],[15.47,0.9],[15.51,0.6],[15.55,1.0],[15.59,0.7],[15.63,1.9],[15.66,1.0],[15.7,1.3],[15.74,0.9],[15.77,1.8],[15.8,1.0],[15.84,1.2],[15.88,0.8],[15.92,1.4],[15.96,1.8],[15.99,1.1],[16.03,1.4],[16.07,1.0],[16.11,1.5],[16.15,1.2],[16.19,1.7],[16.23,2.0],[16.25,null],[16.56,1.4],[16.59,1.0],[16.62,1.1],[16.65,0.7],[16.68,0.45],[16.7,null],[17.58,0.35],[17.61,0.4],[17.63,null],[17.76,0.45],[17.79,0.55],[17.81,null],[18.28,0.6],[18.31,2.5],[18.34,0.7],[18.37,0.6],[18.4,0.9],[18.43,0.6],[18.46,1.0],[18.49,0.7],[18.52,1.7],[18.54,0.6],[18.56,null]];

const slopeParameter = [[1.62,9],[1.64,7.5],[1.66,15.8],[1.68,8],[1.7,9.5],[1.73,7.8],[1.76,11.2],[1.79,8.8],[1.81,null],[1.98,6],[2.01,5.8],[2.04,6.8],[2.07,5.5],[2.1,6.2],[2.12,null],[2.38,12.3],[2.41,12.7],[2.43,null],[2.6,5],[2.63,2.6],[2.66,4],[2.69,3.2],[2.72,6],[2.75,5],[2.78,9.3],[2.81,6],[2.85,10.8],[2.88,6.5],[2.91,8],[2.94,6],[2.97,7.5],[3.0,6.5],[3.03,9],[3.06,7],[3.09,11.5],[3.11,7],[3.13,null],[3.53,11.3],[3.56,6],[3.59,8],[3.62,10],[3.65,11.5],[3.68,6],[3.71,9],[3.74,7.5],[3.77,10],[3.8,6],[3.83,8],[3.86,5],[3.89,11.9],[3.92,10],[3.95,11],[3.97,null],[4.49,9],[4.52,10],[4.54,null],[6.04,6.5],[6.07,5.5],[6.1,7.3],[6.13,4],[6.16,3.5],[6.19,2.5],[6.22,3.5],[6.25,2.8],[6.28,3.2],[6.31,2.3],[6.34,4.7],[6.37,3],[6.4,2.6],[6.43,3.8],[6.46,2.5],[6.49,3.2],[6.52,2.4],[6.55,3.5],[6.58,2.8],[6.61,3.6],[6.64,2.6],[6.67,3],[6.7,2.4],[6.73,3.3],[6.76,2.7],[6.79,3.8],[6.82,3],[6.85,4],[6.88,3.1],[6.91,3.7],[6.94,3],[6.97,4.3],[7.0,3.4],[7.03,3.9],[7.06,3],[7.09,4.5],[7.12,3.5],[7.15,4.2],[7.18,3.3],[7.21,4.8],[7.24,3.8],[7.27,5.2],[7.3,4.2],[7.33,5.5],[7.36,4.5],[7.39,6.2],[7.42,5],[7.45,6.5],[7.48,5.5],[7.51,7.5],[7.54,6],[7.57,8],[7.6,6.8],[7.63,9.2],[7.66,7.5],[7.69,8.5],[7.72,7],[7.76,9.5],[7.79,10.4],[7.82,7],[7.85,8],[7.88,6],[7.91,8.8],[7.94,6],[7.97,5],[8.0,4.2],[8.04,5.5],[8.07,3.5],[8.1,4.5],[8.13,3],[8.16,4],[8.19,3.2],[8.22,3.8],[8.25,2.8],[8.28,3.5],[8.31,3],[8.34,4],[8.37,3.2],[8.4,3.6],[8.43,2.7],[8.46,3.2],[8.49,2.2],[8.52,2.8],[8.55,2],[8.58,2.6],[8.61,3.1],[8.64,2.5],[8.67,3.5],[8.7,3],[8.73,3.8],[8.76,3.2],[8.79,4],[8.82,3.5],[8.85,4.2],[8.87,4.9],[8.9,3.5],[8.93,4],[8.96,3.2],[8.99,4.5],[9.02,3.6],[9.05,4.3],[9.08,3.4],[9.11,4.6],[9.14,3.8],[9.17,4.2],[9.2,3.5],[9.23,4],[9.26,3.2],[9.29,3.8],[9.32,3.3],[9.35,4.1],[9.38,3.5],[9.41,4.4],[9.44,3.8],[9.47,4.5],[9.5,3.7],[9.53,4.2],[9.57,4.8],[9.6,3.8],[9.63,4.2],[9.66,3.3],[9.69,3.9],[9.72,3],[9.75,3.5],[9.78,2.6],[9.81,3.2],[9.84,2.4],[9.87,3],[9.9,3.5],[9.93,2.8],[9.96,3.6],[9.99,4.2],[10.02,3.4],[10.05,4.5],[10.08,3.8],[10.11,5],[10.14,4.3],[10.17,5.5],[10.2,4.5],[10.23,5.8],[10.26,4.8],[10.29,5.5],[10.32,4.4],[10.35,5.2],[10.38,4.2],[10.41,5],[10.44,6.6],[10.47,4.8],[10.5,4],[10.53,4.6],[10.56,3.8],[10.59,4.5],[10.62,6],[10.65,4.8],[10.68,5.4],[10.71,4.2],[10.74,5],[10.77,3.8],[10.8,3.4],[10.83,4.5],[10.86,5.5],[10.89,4.2],[10.92,5.6],[10.95,4.5],[10.98,5.3],[11.01,4.4],[11.04,6.2],[11.07,4.6],[11.1,3.5],[11.13,4.8],[11.16,5.5],[11.19,4.2],[11.22,5],[11.25,6.5],[11.28,5.6],[11.31,4.5],[11.34,3.4],[11.36,2.4],[11.39,3.5],[11.42,4.5],[11.45,5.5],[11.49,7.5],[11.52,5],[11.55,4],[11.58,2.5],[11.61,3.2],[11.64,3.8],[11.67,3],[11.7,3.5],[11.73,4.2],[11.76,3.3],[11.79,4],[11.82,2.8],[11.85,3.5],[11.88,2.5],[11.91,3.3],[11.94,4],[11.97,3.2],[12.0,4.5],[12.03,3.8],[12.06,5.2],[12.09,6.5],[12.12,5.5],[12.15,7.2],[12.18,6],[12.21,8.5],[12.24,7.2],[12.27,9.5],[12.3,8.5],[12.33,11.3],[12.36,8.5],[12.39,6],[12.42,9.8],[12.45,7],[12.48,8.5],[12.51,5.5],[12.54,7],[12.57,4.5],[12.6,6],[12.63,4],[12.66,5.5],[12.69,4.2],[12.72,6],[12.75,5],[12.78,7],[12.81,5.5],[12.84,8],[12.87,6.5],[12.9,9.5],[12.93,7],[12.96,8.5],[12.99,10],[13.02,7.5],[13.05,9],[13.08,8],[13.1,11.3],[13.13,8],[13.16,10],[13.19,6],[13.22,8.5],[13.25,5],[13.28,4.5],[13.31,6],[13.34,5],[13.37,7],[13.4,5],[13.43,8],[13.46,9.5],[13.49,11.3],[13.52,7],[13.55,8.5],[13.58,5],[13.61,4],[13.64,5.5],[13.67,4.5],[13.7,6.5],[13.73,5.5],[13.76,8.5],[13.8,11.3],[13.83,9],[13.86,10],[13.9,10.8],[13.92,null],[14.15,6.5],[14.18,9.3],[14.21,5],[14.24,4],[14.27,5.5],[14.3,7],[14.33,5],[14.36,6.5],[14.39,4.5],[14.42,5.5],[14.45,4],[14.48,6],[14.51,5],[14.54,7],[14.58,8.5],[14.61,5.5],[14.64,4.5],[14.67,6],[14.7,4],[14.73,5],[14.76,6.5],[14.79,5.5],[14.82,7],[14.85,5],[14.88,6],[14.91,4.5],[14.94,5.5],[14.97,4.5],[15.0,5],[15.03,6.5],[15.06,5],[15.09,7],[15.12,5.5],[15.15,8],[15.18,9.5],[15.21,6],[15.24,7.5],[15.27,5],[15.3,6],[15.33,7.5],[15.36,9],[15.4,10.5],[15.43,6],[15.46,5],[15.49,4],[15.52,5],[15.55,3.5],[15.58,4.5],[15.61,5.5],[15.64,4.5],[15.68,6.5],[15.71,4.5],[15.74,5.5],[15.77,3.5],[15.8,3],[15.83,4],[15.86,2.5],[15.89,3.5],[15.92,4.5],[15.95,3.5],[15.98,4],[16.01,3.2],[16.04,2.8],[16.07,3.5],[16.1,3],[16.13,3.8],[16.16,2.8],[16.19,2.5],[16.21,1.5],[16.23,2],[16.25,null],[16.57,4.5],[16.6,5],[16.63,6.5],[16.66,7.5],[16.69,8.8],[16.71,null],[17.58,11.3],[17.61,10.5],[17.64,10],[17.66,null],[17.78,8.9],[17.81,7.5],[17.83,null],[18.28,8.7],[18.31,1.6],[18.34,4],[18.37,7.5],[18.41,5.6],[18.44,8],[18.47,6],[18.5,9.5],[18.53,2.3],[18.55,null]];

const interceptParameter = [[1.66,3000],[1.7,2000],[1.73,3000],[1.76,20000],[1.79,3000],[1.81,null],[2.38,5000],[2.41,12000],[2.43,null],[2.6,5000],[2.63,12000],[2.66,3000],[2.69,2000],[2.72,8000],[2.75,3000],[2.78,30000],[2.81,5000],[2.85,60000],[2.88,15000],[2.91,3000],[2.94,20000],[2.97,5000],[3.0,95000],[3.03,20000],[3.06,40000],[3.09,10000],[3.11,3000],[3.13,null],[3.53,5000],[3.56,75000],[3.59,3000],[3.62,40000],[3.65,5000],[3.68,3000],[3.71,20000],[3.74,4000],[3.77,3000],[3.8,104000],[3.83,30000],[3.86,85000],[3.89,10000],[3.92,4000],[3.95,3000],[3.97,null],[4.49,2000],[4.52,3000],[4.54,null],[6.04,2000],[6.1,3000],[6.15,2000],[6.2,4000],[6.25,2000],[6.3,5000],[6.34,12000],[6.37,3000],[6.4,5000],[6.44,3000],[6.48,8000],[6.52,3000],[6.56,6000],[6.6,3000],[6.64,8000],[6.68,4000],[6.72,5000],[6.76,3000],[6.8,6000],[6.84,3000],[6.88,5000],[6.92,4000],[6.96,7000],[7.0,4000],[7.04,10000],[7.08,5000],[7.12,15000],[7.16,6000],[7.2,22000],[7.24,8000],[7.28,30000],[7.31,12000],[7.34,25000],[7.38,10000],[7.42,20000],[7.46,8000],[7.5,15000],[7.54,6000],[7.58,12000],[7.62,5000],[7.66,10000],[7.7,6000],[7.74,15000],[7.78,8000],[7.82,20000],[7.86,10000],[7.9,15000],[7.94,8000],[7.98,12000],[8.02,6000],[8.06,15000],[8.1,8000],[8.14,20000],[8.18,10000],[8.22,25000],[8.26,12000],[8.3,18000],[8.34,10000],[8.38,25000],[8.42,15000],[8.45,35000],[8.48,15000],[8.52,20000],[8.56,8000],[8.6,12000],[8.64,6000],[8.68,10000],[8.72,5000],[8.76,8000],[8.8,4000],[8.84,7000],[8.88,5000],[8.92,9000],[8.96,12000],[9.0,18000],[9.04,14000],[9.08,16000],[9.12,10000],[9.16,12000],[9.2,8000],[9.24,10000],[9.28,7000],[9.32,12000],[9.36,8000],[9.4,15000],[9.44,9000],[9.48,12000],[9.52,7000],[9.56,9000],[9.6,6000],[9.64,8000],[9.68,5000],[9.72,7000],[9.76,9000],[9.8,13000],[9.84,18000],[9.88,12000],[9.92,15000],[9.96,9000],[10.0,12000],[10.04,7000],[10.08,10000],[10.12,6000],[10.16,12000],[10.2,15000],[10.24,10000],[10.28,18000],[10.32,12000],[10.36,26000],[10.4,12000],[10.44,20000],[10.48,10000],[10.52,14000],[10.56,8000],[10.6,12000],[10.64,9000],[10.68,15000],[10.72,10000],[10.76,30000],[10.8,15000],[10.84,40000],[10.88,62000],[10.92,20000],[10.96,10000],[11.0,15000],[11.04,8000],[11.08,20000],[11.12,12000],[11.16,30000],[11.2,15000],[11.24,45000],[11.28,15000],[11.32,20000],[11.36,10000],[11.4,8000],[11.44,5000],[11.48,4000],[11.52,6000],[11.56,3000],[11.6,4000],[11.64,3000],[11.68,5000],[11.72,3000],[11.76,6000],[11.8,4000],[11.84,8000],[11.88,10000],[11.92,6000],[11.96,10000],[12.0,5000],[12.04,12000],[12.08,8000],[12.12,15000],[12.16,10000],[12.2,18000],[12.24,12000],[12.28,22000],[12.32,10000],[12.36,15000],[12.4,6000],[12.44,10000],[12.48,5000],[12.52,15000],[12.56,6000],[12.6,3000],[12.64,5000],[12.68,3000],[12.72,6000],[12.76,3000],[12.8,4000],[12.84,2000],[12.88,4000],[12.92,3000],[12.96,5000],[13.0,3000],[13.04,6000],[13.08,3000],[13.12,9000],[13.16,4000],[13.2,7000],[13.24,3000],[13.28,4000],[13.32,2000],[13.36,3000],[13.4,2000],[13.5,3000],[13.6,2000],[13.7,3000],[13.8,2000],[13.9,2000],[13.92,null],[14.15,3000],[14.2,5000],[14.24,3000],[14.28,8000],[14.32,15000],[14.36,28000],[14.39,20000],[14.42,10000],[14.46,20000],[14.5,8000],[14.54,15000],[14.58,5000],[14.62,25000],[14.66,8000],[14.7,12000],[14.74,5000],[14.78,10000],[14.82,4000],[14.86,8000],[14.9,3000],[14.94,5000],[14.98,3000],[15.02,6000],[15.06,4000],[15.1,8000],[15.14,5000],[15.18,12000],[15.22,8000],[15.26,20000],[15.3,10000],[15.34,32000],[15.38,15000],[15.42,8000],[15.46,5000],[15.5,15000],[15.54,10000],[15.58,25000],[15.62,40000],[15.66,20000],[15.7,55000],[15.74,30000],[15.78,45000],[15.82,25000],[15.86,60000],[15.9,79000],[15.93,40000],[15.96,20000],[16.0,15000],[16.04,10000],[16.08,20000],[16.12,12000],[16.16,8000],[16.2,15000],[16.23,8000],[16.25,null],[16.57,8000],[16.6,2000],[16.63,null],[16.67,2000],[16.7,8000],[16.72,null],[17.58,3000],[17.61,2000],[17.63,null],[17.78,3000],[17.81,2000],[17.83,null],[18.28,15000],[18.31,5000],[18.34,75000],[18.37,20000],[18.41,158000],[18.44,142000],[18.47,40000],[18.5,80000],[18.53,5000],[18.55,null]];

// ---- right-axis tick labels of the last panel ----
const interceptTickLabels = ["0","5.0×10⁴","1.0×10⁵","1.5×10⁵"];

const BLUE = "#0000ff", GREEN = "#00a000";
const panels = [
  {title:"ACXS1 PARS2 Precipitation intensity vs Time at S1 for 20150122", ylabel:"Precipitation intensity (mm/hr)", lx:25, domain:[-6.8,137.4], major:[0,20,40,60,80,100,120], minorStep:5, series:[{data:precipIntensity,color:BLUE}]},
  {title:"ACXS1 PARS2 equivalent radar reflectivity vs Time at S1 for 20150122", ylabel:"equivalent radar reflectivity (dBZ)", lx:25, domain:[-31.8,84.4], major:[-20,0,20,40,60,80], minorStep:5, series:[{data:reflectivity,color:BLUE}]},
  {title:"ACXS1 PARS2 equivalent radar reflectivity ott vs Time at S1 for 20150122", ylabel:"equivalent radar reflectivity ott (dBZ)", lx:35, domain:[-10.5,75.5], major:[0,20,40,60], minorStep:5, series:[{data:reflectivityOtt,color:BLUE}]},
  {title:"ACXS1 PARS2 Liquid water content vs Time at S1 for 20150122", ylabel:"Liquid water content (mm3/m3)", lx:11, domain:[-123,2623], major:[0,500,1000,1500,2000,2500], minorStep:125, series:[{data:liquidWaterContent,color:BLUE}]},
  {title:"ACXS1 PARS2 Number of particles detected vs Time at S1 for 20150122", ylabel:"Number of particles detected (count)", lx:11, domain:[-82,1768], major:[0,500,1000,1500], minorStep:100, series:[{data:particleCount,color:BLUE}]},
  {title:"ACXS1 PARS2 mor visibility vs Time at S1 for 20150122", ylabel:"mor visibility (km)", lx:35, domain:[-0.58,21.17], major:[0,5,10,15,20], minorStep:1, series:[{data:morVisibility,color:BLUE}]},
  {title:"ACXS1 PARS2 median volume diameter vs Time at S1 for 20150122", ylabel:"median volume diameter (mm)", lx:35, domain:[-0.62,18.74], major:[0,5,10,15], minorStep:1, series:[{data:medianVolumeDiameter,color:BLUE}]},
  {title:"ACXS1 PARS2 liquid water distribution mean vs Time at S1 for 20150122", ylabel:"liquid water distribution mean (mm)", lx:35, domain:[-0.68,20.34], major:[0,5,10,15,20], minorStep:1, series:[{data:liquidWaterMean,color:BLUE}]},
  {title:"ACXS1 PARS2 slope parameter vs Time at S1 for 20150122", ylabel:"slope parameter (1/mm)", lx:35, domain:[-0.49,16.53], major:[0,5,10,15], minorStep:1, series:[{data:slopeParameter,color:BLUE},{data:interceptParameter,color:GREEN,ratio:10000}], rightLabel:"intercept parameter (1/(m^3 mm))", last:true}
];

const hourTicks = d3.range(0, 25, 1);
const fmtNum = d => String(d);
const fmtHour = d => xTickLabels[xLabelHours.indexOf(d)];

function makePanel(p) {
  const last = !!p.last;
  const minor = d3.range(Math.ceil(p.domain[0] / p.minorStep) * p.minorStep, p.domain[1], p.minorStep);
  const marks = [];
  for (const s of p.series) {
    const r = s.ratio || 1;
    marks.push(Plot.line(s.data, {x: d => d[0], y: d => d[1] == null ? NaN : d[1] / r, stroke: s.color, strokeWidth: 1}));
  }
  marks.push(
    Plot.frame({stroke: "black"}),
    Plot.axisX({anchor: "bottom", ticks: hourTicks, tickSize: -5, fill: null, label: null}),
    Plot.axisX({anchor: "top", ticks: hourTicks, tickSize: -5, fill: null, label: null}),
    Plot.axisX({anchor: "bottom", ticks: xLabelHours, tickSize: 0, tickPadding: last ? 10 : 8, tickFormat: fmtHour, label: null, fontSize: 13}),
    Plot.axisY({anchor: "left", ticks: p.major, tickSize: -15, fill: null, label: null}),
    Plot.axisY({anchor: "left", ticks: minor, tickSize: -7, fill: null, label: null}),
    Plot.axisY({anchor: "left", ticks: p.major, tickSize: 0, tickPadding: 4, tickFormat: fmtNum, label: null, fontSize: 13})
  );
  if (last) {
    marks.push(
      Plot.axisY({anchor: "right", ticks: p.major, tickSize: -14, strokeWidth: 2, fill: null, label: null}),
      Plot.axisY({anchor: "right", ticks: minor, tickSize: -8, strokeWidth: 1.5, fill: null, label: null}),
      Plot.axisY({anchor: "right", ticks: p.major, tickSize: 0, tickPadding: 4, tickFormat: d => interceptTickLabels[p.major.indexOf(d)], label: null, fontSize: 13}),
      Plot.text([p.rightLabel], {frameAnchor: "right", dx: 50, rotate: -90, textAnchor: "middle", fill: GREEN, fontSize: 12}),
      Plot.text(["Image provided by the ARM Data Quality Office: 20150209"], {frameAnchor: "bottom", dy: 44, fill: "#b22222", fontSize: 11})
    );
  } else {
    marks.push(
      Plot.axisY({anchor: "right", ticks: p.major, tickSize: -15, fill: null, label: null}),
      Plot.axisY({anchor: "right", ticks: minor, tickSize: -7, fill: null, label: null}),
      Plot.axisY({anchor: "right", ticks: p.major, tickSize: 0, tickPadding: 4, tickFormat: fmtNum, label: null, fontSize: 13})
    );
  }
  marks.push(
    Plot.text([p.title], {frameAnchor: "top", dy: -11, fontSize: 15}),
    Plot.text([p.ylabel], {frameAnchor: "left", dx: p.lx - 71, rotate: -90, textAnchor: "middle", fill: BLUE, fontSize: 12}),
    Plot.text(["Time (UTC)"], {frameAnchor: "bottom", dy: 28, fontSize: 13})
  );
  return Plot.plot({
    width: 840, height: 250,
    marginLeft: 71, marginRight: 71,
    marginTop: last ? 32 : 31, marginBottom: last ? 55 : 33,
    x: {domain: [0, 24]},
    y: {domain: p.domain},
    style: {fontFamily: "'Liberation Sans', Arial, sans-serif", fontSize: "13px", background: "#fff", color: "#000", overflow: "visible"},
    marks
  });
}

const host = document.getElementById("charts");
for (const p of panels) host.appendChild(makePanel(p));
</script></body></html>
